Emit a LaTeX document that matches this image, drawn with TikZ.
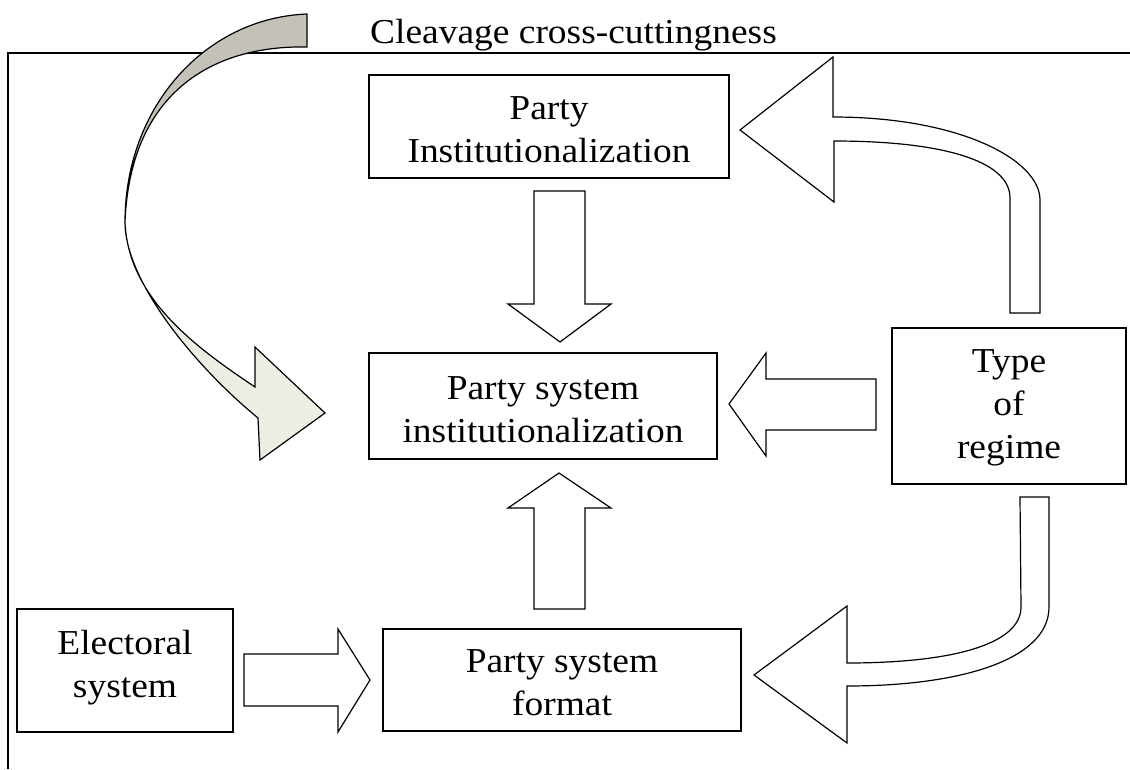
\documentclass[tikz,border=0pt]{standalone}
\usepackage{fontspec}
\setmainfont[FakeStretch=1.07]{Liberation Serif}
\definecolor{ribbondark}{RGB}{195,193,184}
\definecolor{ribbonlight}{RGB}{238,237,227}
\begin{document}
\begin{tikzpicture}[x=1pt,y=-1pt,
  every node/.style={font=\fontsize{35}{43}\selectfont},
  box/.style={draw, line width=1.2pt, inner sep=0pt, align=center, text depth=0pt},
  blockarrow/.style={draw, line width=1.2pt, line join=miter, fill=white},
  ribbon/.style={draw, line width=1.2pt, line join=miter}]
\useasboundingbox (0,0) rectangle (1130,769);
% frame
\draw[line width=1.2pt] (1130,53) -- (8,53) -- (8,769);
% title
\node[anchor=base west, inner sep=0pt] (title) at (370,43) {Cleavage cross-cuttingness};
% left curved (cleavage) arrow
\path[ribbon, fill=ribbondark] (307,14) -- (307,47)
  .. controls (210,45) and (130,95) .. (125,222)
  .. controls (125,107) and (205,18) .. (307,14) -- cycle;
\path[ribbon, fill=ribbonlight] (125,222)
  .. controls (128,300) and (200,350) .. (255,387)
  -- (255,347) -- (325,413) -- (260,460) -- (258,418)
  .. controls (196,367) and (125,282) .. (125,222) -- cycle;
% boxes
\node[box, minimum width=360pt, minimum height=103pt, text height=71pt] (pi) at (549,126.5) {Party\\Institutionalization};
\node[box, minimum width=348pt, minimum height=106pt, text height=72pt] (psi) at (543,406) {Party system\\institutionalization};
\node[box, minimum width=234pt, minimum height=156pt, text height=104pt] (regime) at (1009,406) {Type\\of\\regime};
\node[box, minimum width=216pt, minimum height=123pt, text height=53pt] (elect) at (125,670.5) {Electoral\\system};
\node[box, minimum width=358pt, minimum height=102pt, text height=70pt] (psf) at (562,680) {Party system\\format};
% straight block arrows
\path[blockarrow] (534,191) -- (585,191) -- (585,304) -- (611,304) -- (560,342) -- (508,304) -- (534,304) -- cycle;
\path[blockarrow] (534,609) -- (585,609) -- (585,508) -- (611,508) -- (559,473) -- (508,508) -- (534,508) -- cycle;
\path[blockarrow] (876,379) -- (876,430) -- (766,430) -- (766,456) -- (729,404) -- (766,353) -- (766,379) -- cycle;
\path[blockarrow] (244,654) -- (338,654) -- (338,629) -- (370,680) -- (338,732) -- (338,706) -- (244,706) -- cycle;
% curved arrow: regime -> party institutionalization
\path[blockarrow] (1010,313) -- (1040,313) -- (1040,200)
  .. controls (1040,160) and (960,117) .. (833,117)
  -- (833,57) -- (740,130) -- (834,202) -- (834,141)
  .. controls (940,141) and (1010,160) .. (1010,198) -- cycle;
% curved arrow: regime -> party system format
\path[blockarrow] (1020,497) -- (1049,497) -- (1049,607)
  .. controls (1049,660) and (960,686) .. (847,686)
  -- (847,743) -- (754,675) -- (847,606) -- (847,663)
  .. controls (950,663) and (1021,645) .. (1021,607) -- cycle;
\end{tikzpicture}
\end{document}
